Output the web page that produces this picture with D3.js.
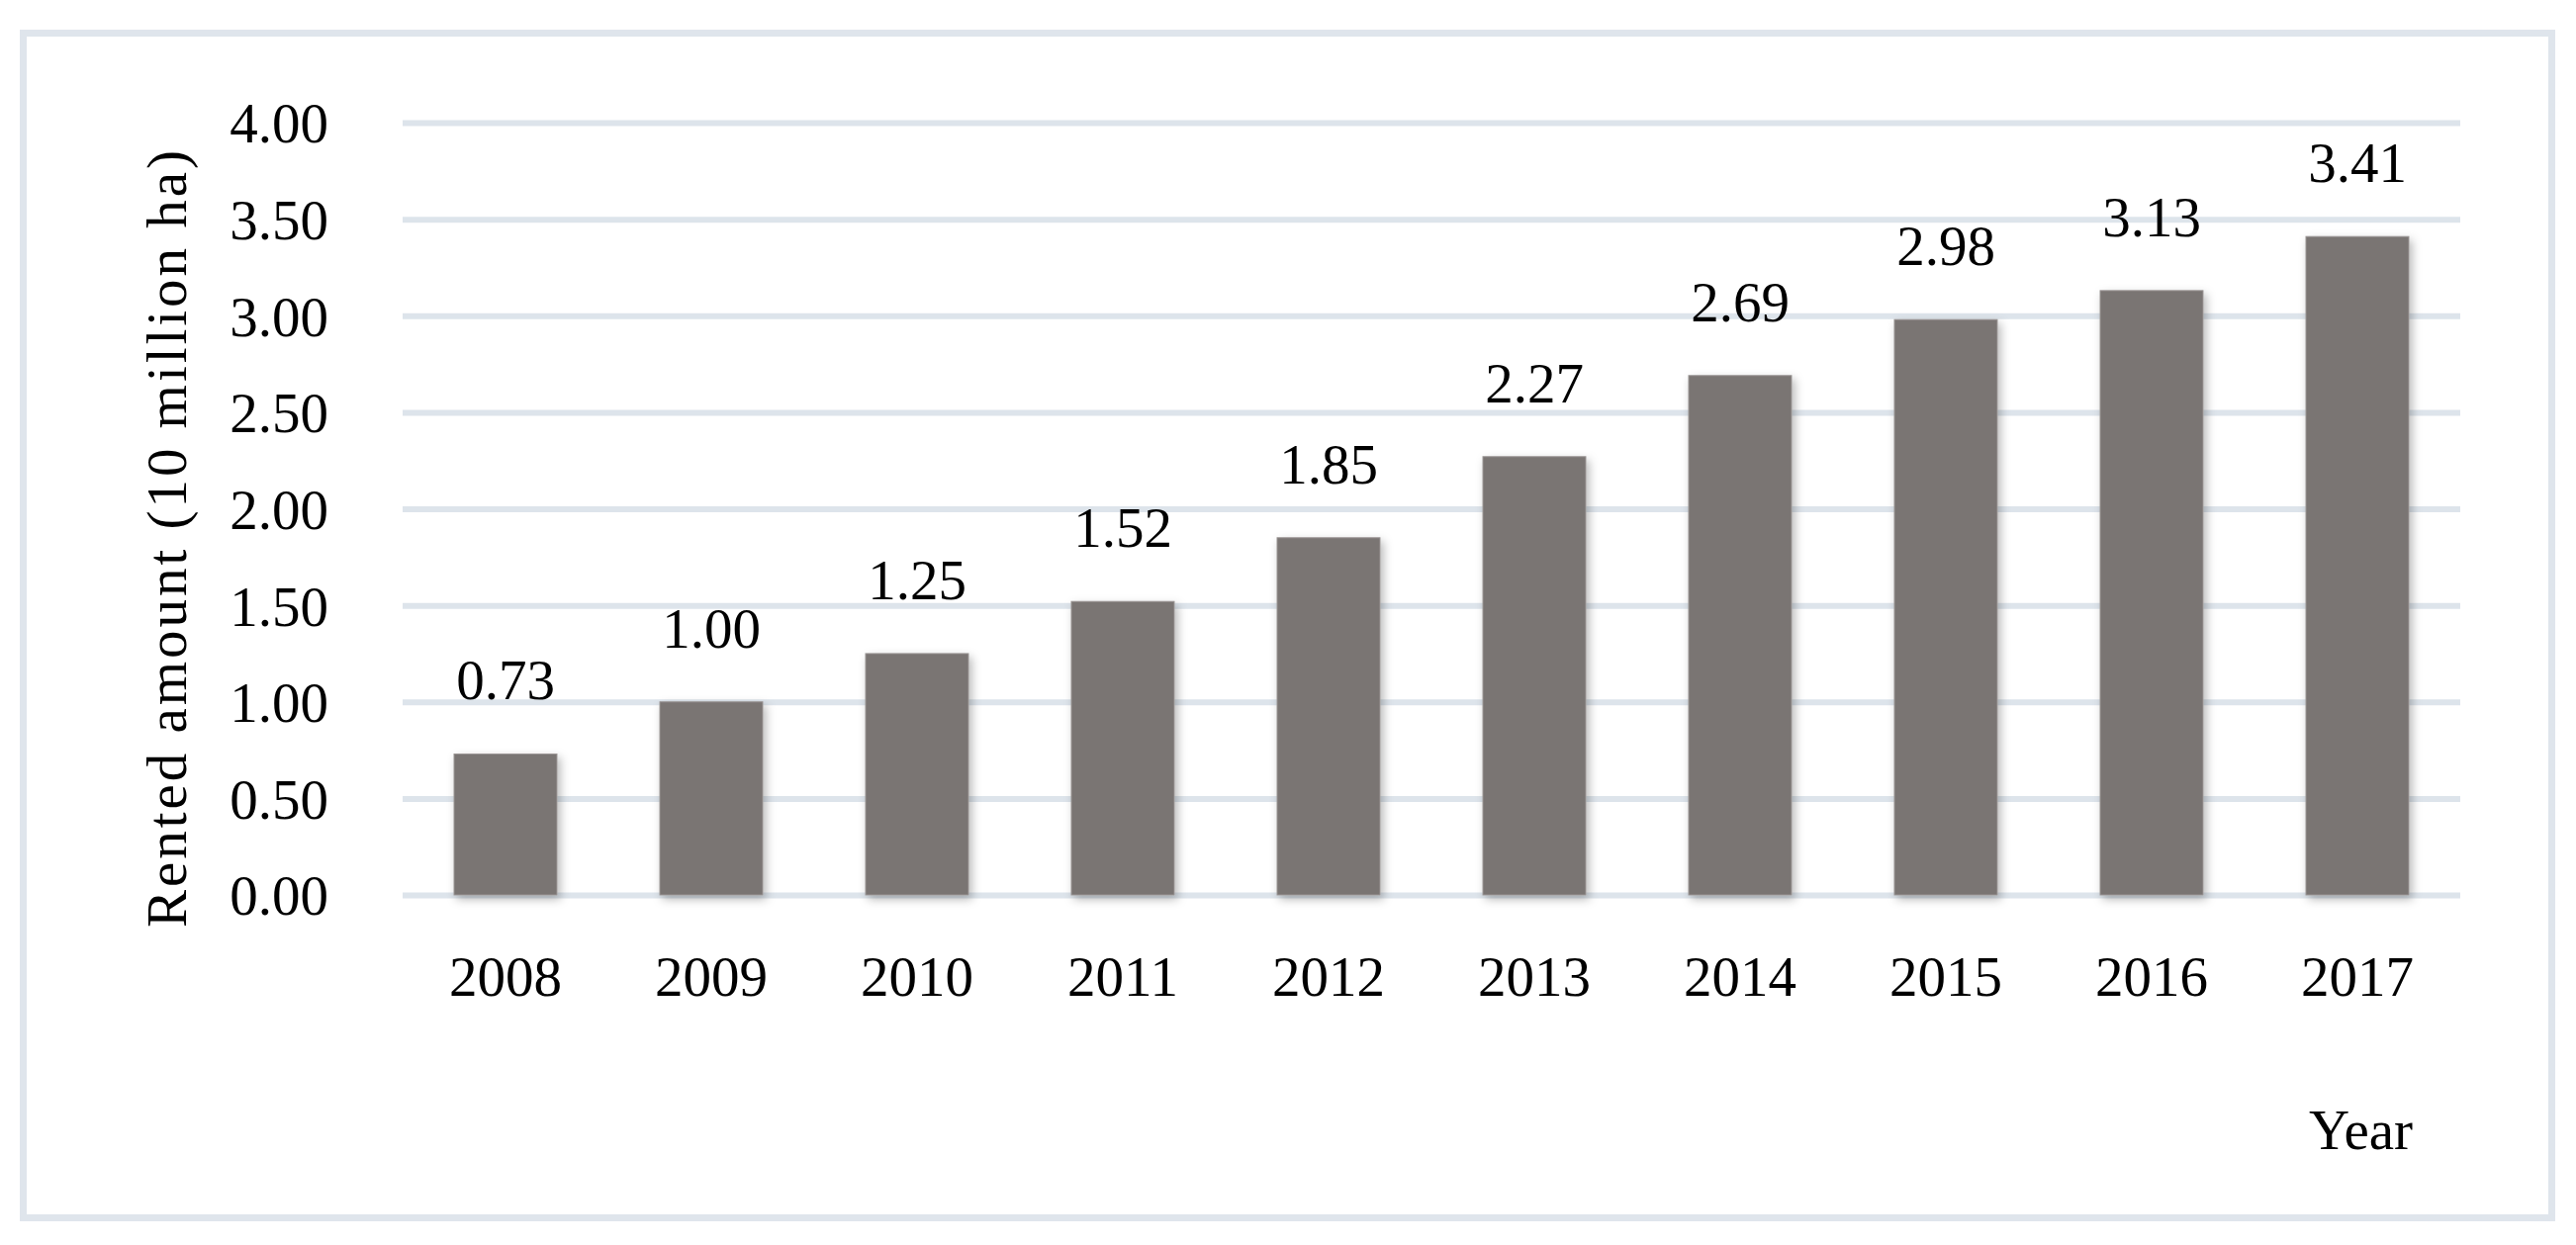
<!DOCTYPE html>
<html>
<head>
<meta charset="utf-8">
<script src="https://cdn.jsdelivr.net/npm/d3@7"></script>
<style>
  body { margin: 0; background: #fff; }
  text { font-family: "Liberation Serif", "DejaVu Serif", serif; fill: #000; }
</style>
</head>
<body>
<svg width="2604" height="1259"></svg>
<script>
var years = ['2008', '2009', '2010', '2011', '2012', '2013', '2014', '2015', '2016', '2017'];
var rented = [0.73, 1.00, 1.25, 1.52, 1.85, 2.27, 2.69, 2.98, 3.13, 3.41];
var yTicks = [0, 0.5, 1, 1.5, 2, 2.5, 3, 3.5, 4];

var svg = d3.select('svg');
var fontSize = 57;
var gridColor = '#dde4eb';

// outer frame
svg.append('rect')
  .attr('x', 23.5).attr('y', 33.5)
  .attr('width', 2556).attr('height', 1198)
  .attr('fill', 'none')
  .attr('stroke', '#dfe5ec')
  .attr('stroke-width', 7);

// soft shadow for the bars
var defs = svg.append('defs');
var f = defs.append('filter').attr('id', 'shadow')
  .attr('x', '-20%').attr('y', '-10%').attr('width', '150%').attr('height', '130%');
f.append('feDropShadow')
  .attr('dx', 3).attr('dy', 4).attr('stdDeviation', 5)
  .attr('flood-color', '#000').attr('flood-opacity', 0.28);

var x = d3.scaleBand()
  .domain(years)
  .range([407, 2487])
  .paddingInner(0.5)
  .paddingOuter(0.25);

var y = d3.scaleLinear()
  .domain([0, 4])
  .range([905, 124]);

// gridlines + y tick labels
var yAxis = svg.append('g')
  .attr('transform', 'translate(407,0)')
  .call(d3.axisLeft(y)
    .tickValues(yTicks)
    .tickSize(-(2487 - 407))
    .tickPadding(75)
    .tickFormat(d3.format('.2f')));

yAxis.select('.domain').remove();
yAxis.selectAll('.tick line')
  .attr('stroke', gridColor)
  .attr('stroke-width', 6);
yAxis.selectAll('.tick text')
  .attr('font-size', fontSize)
  .attr('font-family', '"Liberation Serif", serif')
  .attr('fill', '#000')
  .attr('dy', '0.35em');

// bars
svg.append('g').selectAll('rect')
  .data(rented)
  .join('rect')
  .attr('x', function (d, i) { return x(years[i]); })
  .attr('y', function (d) { return y(d); })
  .attr('width', x.bandwidth())
  .attr('height', function (d) { return y(0) - y(d); })
  .attr('fill', '#7a7473')
  .attr('stroke', '#9a9594')
  .attr('stroke-width', 1)
  .attr('filter', 'url(#shadow)');

// value labels
svg.append('g').selectAll('text')
  .data(rented)
  .join('text')
  .attr('x', function (d, i) { return x(years[i]) + x.bandwidth() / 2; })
  .attr('y', function (d) { return y(d) - 55; })
  .attr('text-anchor', 'middle')
  .attr('font-size', fontSize)
  .text(function (d) { return d3.format('.2f')(d); });

// x tick labels
var xAxis = svg.append('g')
  .attr('transform', 'translate(0,' + y(0) + ')')
  .call(d3.axisBottom(x).tickSize(0).tickPadding(0));
xAxis.select('.domain').remove();
xAxis.selectAll('.tick text')
  .attr('font-size', fontSize)
  .attr('font-family', '"Liberation Serif", serif')
  .attr('fill', '#000')
  .attr('y', 102)
  .attr('dy', 0);

// axis titles
svg.append('text')
  .attr('x', 2439).attr('y', 1162)
  .attr('text-anchor', 'end')
  .attr('font-size', fontSize)
  .text('Year');

svg.append('text')
  .attr('transform', 'translate(188,545) rotate(-90)')
  .attr('text-anchor', 'middle')
  .attr('font-size', fontSize)
  .attr('textLength', 786)
  .attr('lengthAdjust', 'spacing')
  .text('Rented amount (10 million ha)');
</script>
</body>
</html>
